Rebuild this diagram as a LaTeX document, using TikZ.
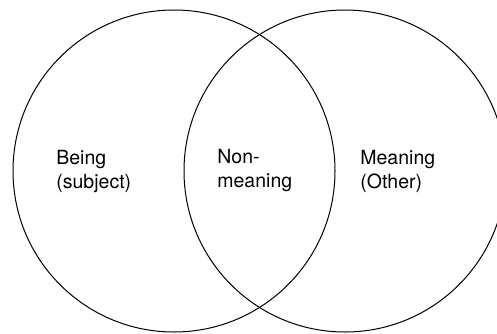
\documentclass[tikz,border=0pt]{standalone}
\usepackage{fontspec}
\setmainfont{TeX Gyre Heros}
\usepackage{tikz}

\begin{document}
\begin{tikzpicture}
            [x=0.5pt,y=0.5pt,thin,every node/.style={anchor=west,align=left,inner sep=0pt,font=\fontsize{9.75}{12}\selectfont}]
            \useasboundingbox (0,0) rectangle (497,333);
            \clip (0,0) rectangle (497,333);
            \coordinate (subj) at (174,162);
            \coordinate (other) at (345,162);
            \draw[line width=0.5pt] (subj) circle[radius=80.5pt];
            \draw[line width=0.5pt] (other) circle[radius=80.5pt];
            \node (being) at (56,161) {Being\\(subject)};
            \node (non) at (217,162) {Non-\\meaning};
            \node (meaning) at (360,162) {Meaning\\(Other)};
        \end{tikzpicture}
\end{document}
